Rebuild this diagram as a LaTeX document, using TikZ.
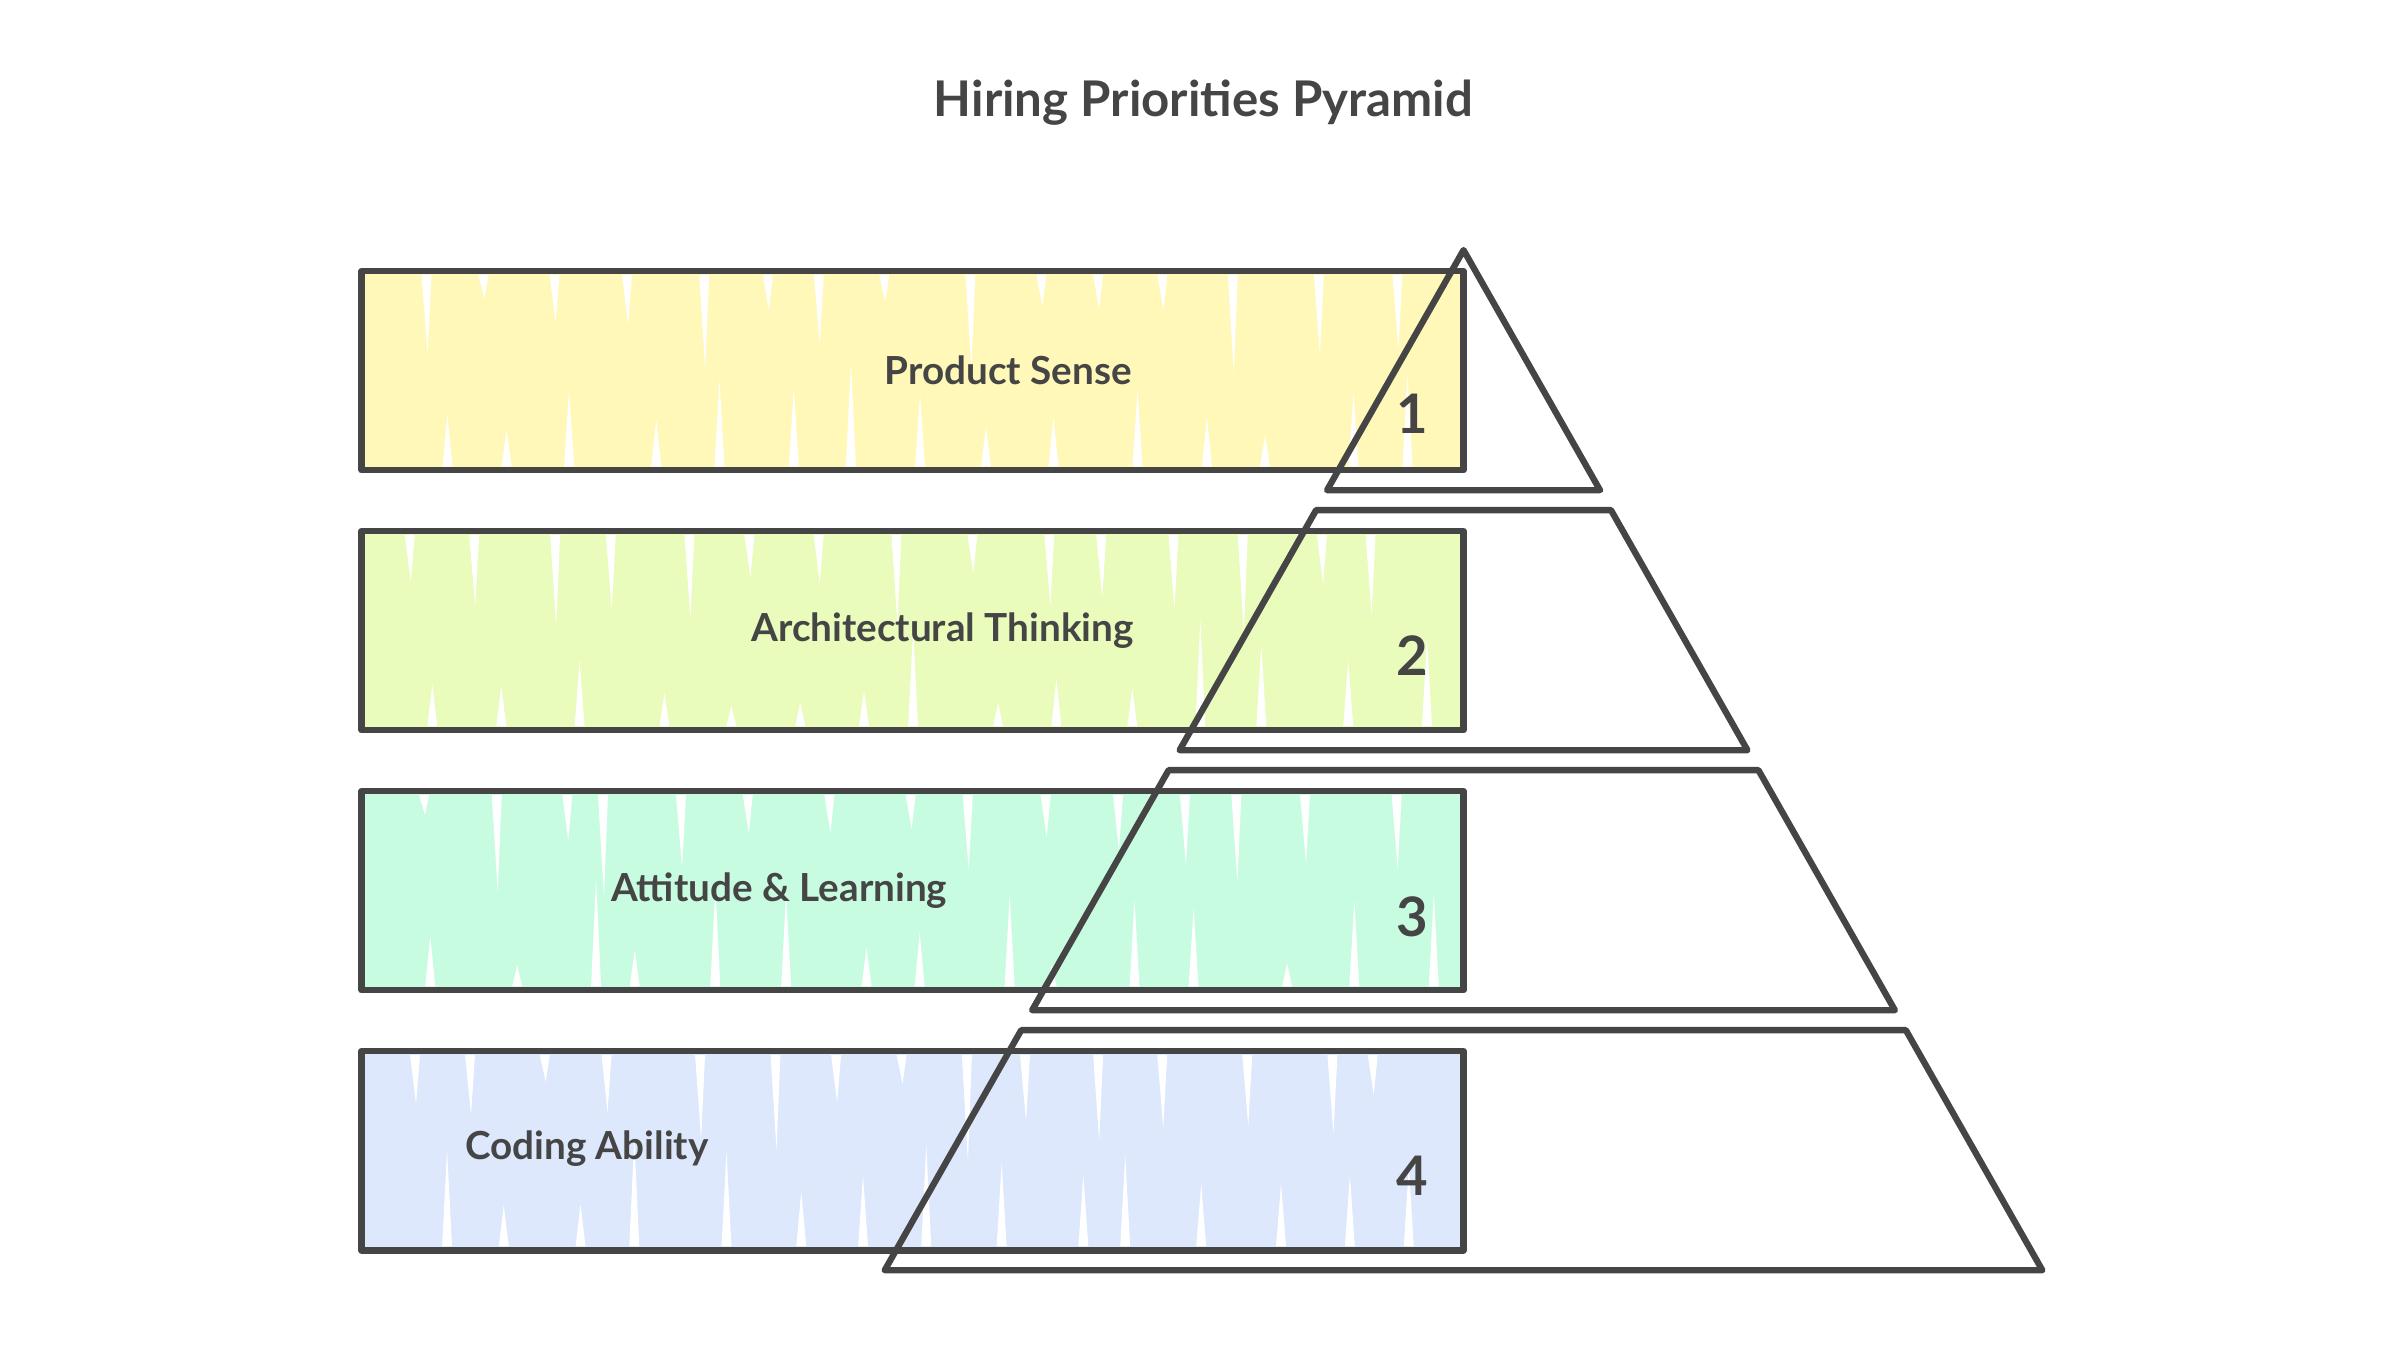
\documentclass[tikz,border=0pt]{standalone}
\usepackage{fontspec}
\setmainfont{Lato}
\usepackage{xcolor}
\usetikzlibrary{positioning,calc}

\definecolor{inkgray}{HTML}{454545}
\definecolor{tierone}{HTML}{FFF8B8}
\definecolor{tiertwo}{HTML}{E9FCBB}
\definecolor{tierthree}{HTML}{C8FCE1}
\definecolor{tierfour}{HTML}{DDE8FD}

\begin{document}
\begin{tikzpicture}[x=0.009963cm, y=-0.009963cm,
		bar/.style={draw=inkgray, line width=1.8pt, line join=round},
		slice/.style={draw=inkgray, line width=1.8pt, line join=round, line cap=round},
		tiertext/.style={text=inkgray, font=\bfseries\fontsize{11}{13}\selectfont},
		tiernum/.style={text=inkgray, font=\bfseries\fontsize{15.5}{17}\selectfont}]
				\useasboundingbox (0,0) rectangle (2409,1355);
				\node [text=inkgray, font=\bfseries\fontsize{14}{16}\selectfont] (title) at (1208,103) {Hiring Priorities Pyramid};
				% bar fills with the rough white streaks
				\fill [tierone] (363,272) rectangle (1469,472);
				\fill [tiertwo] (363,533) rectangle (1469,733);
				\fill [tierthree] (363,794) rectangle (1469,994);
				\fill [tierfour] (363,1055) rectangle (1469,1255);
				\pgfmathsetseed{11}
				\foreach \top in {272,533,794,1055} {
					\foreach \sx in {390,460,...,1420} {
						\pgfmathsetmacro{\dl}{20+90*rnd}
						\pgfmathsetmacro{\dx}{\sx+35*rnd}
						\fill [white] (\dx,\top+4) -- ++(10,0) -- ++(-4,\dl) -- cycle;
						\pgfmathsetmacro{\ul}{20+90*rnd}
						\pgfmathsetmacro{\ux}{\sx+30+35*rnd}
						\fill [white] (\ux,\top+196) -- ++(10,0) -- ++(-5,-\ul) -- cycle;
					}
				}
				% bars
				\draw [bar] (363,272) rectangle (1469,472);
				\draw [bar] (363,533) rectangle (1469,733);
				\draw [bar] (363,794) rectangle (1469,994);
				\draw [bar] (363,1055) rectangle (1469,1255);
				\node [tiertext] (sense) at (1012,372) {Product Sense};
				\node [tiertext] (architecture) at (946,633) {Architectural Thinking};
				\node [tiertext] (attitude) at (782,894) {Attitude \& Learning};
				\node [tiertext] (coding) at (589,1153) {Coding Ability};
				% pyramid slices
				\draw [slice] (1469,251) -- (1606,492) -- (1332,492) -- cycle;
				\draw [slice] (1321,512) -- (1617,512) -- (1754,753) -- (1184,753) -- cycle;
				\draw [slice] (1173,773) -- (1765,773) -- (1902,1014) -- (1036,1014) -- cycle;
				\draw [slice] (1025,1034) -- (1913,1034) -- (2050,1275) -- (888,1275) -- cycle;
				\node [tiernum] (one) at (1418,415) {1};
				\node [tiernum] (two) at (1418,658) {2};
				\node [tiernum] (three) at (1418,920) {3};
				\node [tiernum] (four) at (1418,1180) {4};
			\end{tikzpicture}
\end{document}
